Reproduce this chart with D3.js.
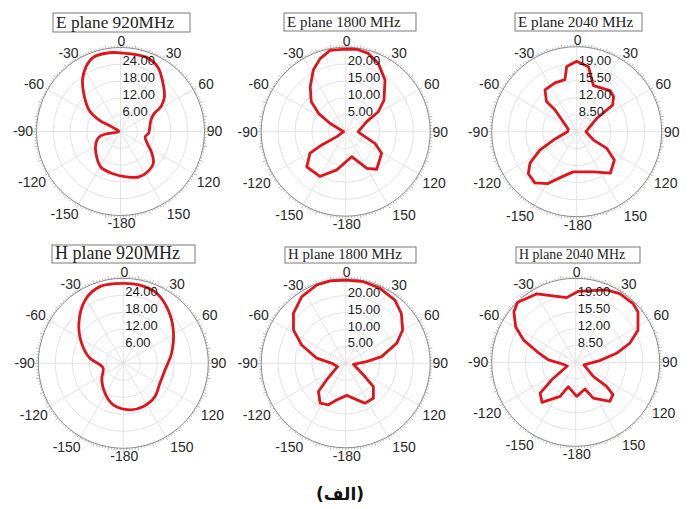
<!DOCTYPE html>
<html>
<head>
<meta charset="utf-8">
<script src="https://cdn.jsdelivr.net/npm/d3@7"></script>
<style>
  html, body { margin: 0; padding: 0; background: #fff; }
  svg { display: block; }
</style>
</head>
<body>
<svg id="chart" width="691" height="509"></svg>
<script>
// ---------------- DATA ----------------
const panelTitles = ["E plane 920MHz", "E plane 1800 MHz", "E plane 2040 MHz",
                     "H plane 920MHz", "H plane 1800 MHz", "H plane 2040 MHz"];
const angleTickLabels = [0, 30, 60, 90, 120, 150, -180, -150, -120, -90, -60, -30];
const ringValues920  = [6, 12, 18, 24];
const ringValues1800 = [5, 10, 15, 20];
const ringValues2040 = [8.5, 12, 15.5, 19];
const radialDomain920  = [0, 30];
const radialDomain1800 = [0, 25];
const radialDomain2040 = [5, 22.5];
const captionText = "(الف)";

// E plane 920 MHz (angle in degrees, gain)
const e920Angles = [-169, -151, -132, -116, -104, -99, -90, -62, -62, -56, -46, -36.5, -28, -19.4, -8, 0, 19, 30, 39, 52, 58.5, 62, 69.5, 94, 102, 114, 125, 134, 146, 158, 173];
const e920Gain   = [15.3, 14.5, 11.8, 9.8, 7.8, 4.8, 0.6, 3.3, 8.6, 13.5, 17.9, 22.8, 26.2, 28.3, 28.4, 28.1, 28.1, 26.6, 23.7, 19.9, 16.9, 13.6, 11.6, 10.0, 9.0, 10.5, 13.7, 16.3, 17.3, 17.5, 16.3];

// E plane 1800 MHz
const e1800Angles = [-166.8, -150, -132, -121, -119, -119, -90, -62, -56, -49, -38.4, -27.7, -19.3, -10.9, 0, 7.6, 16.1, 25.5, 37.3, 50.4, 58.5, 64.5, 90, 96.6, 111.7, 121, 140.5, 150, 166.5];
const e1800Gain   = [11.6, 15.3, 15.5, 12.3, 8.1, 3.0, 0.6, 5.2, 9.7, 13.5, 16.9, 20.6, 22.9, 24.5, 24.4, 24.6, 24.1, 22.4, 19.2, 14.7, 11.3, 6.9, 3.7, 4.3, 9.3, 12.4, 14.4, 12.5, 7.6];

// E plane 2040 MHz
const e2040Angles = [-175, -161.6, -151, -140.7, -131, -124, -116.6, -109.7, -90, -74, -45, -45, -37.2, -24.1, -12.7, -8.7, 0, 10.2, 20, 39, 46.3, 53.5, 56.3, 90, 116.6, 119, 127, 141, 157];
const e2040Gain   = [13.3, 14.8, 17.2, 18.6, 18.2, 16.6, 13.5, 10.1, 6.9, 6.8, 11.3, 13.8, 15.8, 16.0, 16.0, 18.6, 19.5, 18.6, 15.1, 15.9, 15.5, 14.2, 10.0, 6.9, 8.9, 12.1, 14.7, 16.0, 14.0];

// H plane 920 MHz
const h920Angles = [-166.5, -148.6, -127.6, -104, -94, -81.5, -64.4, -48, -31, -17, 0, 12, 25.5, 40, 56.3, 78.3, 99, 118.6, 136.5, 155, 171.9];
const h920Gain   = [15.1, 12.4, 9.6, 7.3, 8.2, 11.9, 16.3, 21.1, 26.1, 28.3, 28.2, 28.2, 27.4, 24.6, 21.2, 17.4, 14.9, 14.7, 16.2, 16.8, 16.6];

// H plane 1800 MHz
const h1800Angles = [-166, -157.4, -147.3, -136, -131, -112, -90, -80, -67.4, -57.5, -46.3, -33.4, -20.3, -10.7, 0, 12.2, 24.6, 37.9, 48.2, 59.7, 68.6, 79.5, 85.5, 97.4, 124.6, 130, 141.7, 154, 163, 178];
const h1800Gain   = [11.2, 13.3, 14.0, 11.6, 7.5, 2.6, 4.1, 8.7, 14.1, 18.3, 21.4, 23.6, 24.7, 24.8, 24.6, 24.7, 24.4, 23.7, 22.1, 19.5, 16.2, 10.8, 6.2, 2.3, 6.9, 10.7, 13.2, 13.1, 11.3, 9.5];

// H plane 2040 MHz
const h2040Angles = [-163, -155.5, -139.9, -131, -126, -113.7, -93.7, -85, -74.7, -66.9, -59.5, -50.9, -44.2, -29.5, -7.9, 2.1, 23, 32.7, 44.3, 51, 62.7, 70.7, 77.6, 86, 107.7, 129, 128, 131, 138.9, 153.9, 160.9, 178.3];
const h2040Gain   = [10.3, 12.8, 15.9, 14.8, 11.1, 6.9, 8.2, 10.7, 13.3, 16.8, 19.5, 21.6, 22.4, 21.4, 18.6, 19.8, 21.4, 22.0, 22.1, 21.7, 19.6, 16.9, 13.7, 10.0, 6.8, 9.7, 13.1, 15.3, 15.8, 13.3, 10.9, 12.1];

// ---------------- LAYOUT ----------------
const panels = [
  { title: panelTitles[0], angles: e920Angles,  gain: e920Gain,  rings: ringValues920,  domain: radialDomain920,  smooth: true,
    cx: 120.5, cy: 131.5, R: 84, box: [53, 13, 137, 19], fs: 17.3 },
  { title: panelTitles[1], angles: e1800Angles, gain: e1800Gain, rings: ringValues1800, domain: radialDomain1800, smooth: false,
    cx: 345.7, cy: 131.7, R: 84.5, box: [284, 13, 132, 18], fs: 15 },
  { title: panelTitles[2], angles: e2040Angles, gain: e2040Gain, rings: ringValues2040, domain: radialDomain2040, smooth: false,
    cx: 576.7, cy: 131.7, R: 85, box: [515, 13, 127, 18], fs: 15.2 },
  { title: panelTitles[3], angles: h920Angles,  gain: h920Gain,  rings: ringValues920,  domain: radialDomain920,  smooth: true,
    cx: 123.3, cy: 363.3, R: 85, box: [52, 245, 143, 18], fs: 18 },
  { title: panelTitles[4], angles: h1800Angles, gain: h1800Gain, rings: ringValues1800, domain: radialDomain1800, smooth: false,
    cx: 345.7, cy: 363.3, R: 84.5, box: [285, 247, 131, 16], fs: 14.8 },
  { title: panelTitles[5], angles: h2040Angles, gain: h2040Gain, rings: ringValues2040, domain: radialDomain2040, smooth: false,
    cx: 575.7, cy: 362.3, R: 84, box: [516, 247, 124, 16], fs: 13.8 }
];

// placement of the angle labels (text centre, in px, for a radius of 84)
const angleLabelOffset = {
  "0": [1, -90.5], "30": [53, -78], "60": [85.5, -47.5], "90": [94, 0],
  "120": [88, 51], "150": [58, 83], "-180": [1, 92], "-150": [-56, 83],
  "-120": [-88.5, 51], "-90": [-97.5, 0], "-60": [-86.5, -47.5], "-30": [-52, -78]
};

const svg = d3.select("#chart");
const angleScale = d3.scaleLinear().domain([-180, 180]).range([-Math.PI, Math.PI]);

panels.forEach(p => {
  const g = svg.append("g").attr("transform", `translate(${p.cx},${p.cy})`);
  const r = d3.scaleLinear().domain(p.domain).range([0, p.R]);
  const k = p.R / 84;

  // rings
  g.selectAll("circle.ring").data(p.rings).join("circle")
    .attr("r", d => r(d)).attr("fill", "none")
    .attr("stroke", "#dcdcdc").attr("stroke-width", 0.8);

  // spokes every 30 degrees
  const spokeAngles = d3.range(-180, 180, 30);
  g.selectAll("line.spoke").data(spokeAngles).join("line")
    .attr("x1", 0).attr("y1", 0)
    .attr("x2", d => p.R * Math.sin(angleScale(d)))
    .attr("y2", d => -p.R * Math.cos(angleScale(d)))
    .attr("stroke", "#dcdcdc").attr("stroke-width", 0.8);

  // outer circle
  g.append("circle").attr("r", p.R).attr("fill", "none")
    .attr("stroke", "#8a8a8a").attr("stroke-width", 1);

  // tick marks
  const tickAngles = d3.range(-180, 180, 2);
  g.selectAll("line.tick").data(tickAngles).join("line")
    .attr("x1", d => p.R * Math.sin(angleScale(d)))
    .attr("y1", d => -p.R * Math.cos(angleScale(d)))
    .attr("x2", d => (p.R + (d % 10 === 0 ? 3.5 : 2)) * Math.sin(angleScale(d)))
    .attr("y2", d => -(p.R + (d % 10 === 0 ? 3.5 : 2)) * Math.cos(angleScale(d)))
    .attr("stroke", "#9a9a9a").attr("stroke-width", 0.7);

  // angle labels
  g.selectAll("text.ang").data(angleTickLabels).join("text")
    .attr("x", d => angleLabelOffset[String(d)][0] * k)
    .attr("y", d => angleLabelOffset[String(d)][1] * k)
    .attr("dy", "0.35em")
    .attr("text-anchor", "middle")
    .attr("font-family", "Liberation Sans, Arial, sans-serif")
    .attr("font-size", 14)
    .attr("fill", "#2a2a2a")
    .text(d => d);

  // curve
  const pts = p.angles.map((a, i) => ({ a, v: p.gain[i] }));
  const line = d3.lineRadial()
    .angle(d => angleScale(d.a))
    .radius(d => r(d.v))
    .curve(p.smooth ? d3.curveCatmullRomClosed.alpha(0.5) : d3.curveLinearClosed);
  g.append("path").attr("d", line(pts))
    .attr("fill", "none").attr("stroke", "#e0141b")
    .attr("stroke-width", 2.8).attr("stroke-linejoin", "round");

  // ring labels
  g.selectAll("text.ring").data(p.rings).join("text")
    .attr("x", 2)
    .attr("y", d => -r(d) + 1)
    .attr("font-family", "Liberation Sans, Arial, sans-serif")
    .attr("font-size", 13)
    .attr("fill", "#1a1a1a")
    .text(d => d.toFixed(2));

  // title box
  svg.append("rect")
    .attr("x", p.box[0]).attr("y", p.box[1])
    .attr("width", p.box[2]).attr("height", p.box[3])
    .attr("fill", "#fff").attr("stroke", "#7a7a7a").attr("stroke-width", 1);
  svg.append("text")
    .attr("x", p.box[0] + 3)
    .attr("y", p.box[1] + p.box[3] - 4)
    .attr("font-family", "Liberation Serif, Times New Roman, serif")
    .attr("font-size", p.fs)
    .attr("fill", "#222")
    .text(p.title);
});

// caption
svg.append("text")
  .attr("x", 340).attr("y", 500)
  .attr("text-anchor", "middle")
  .attr("font-family", "DejaVu Sans, Noto Sans, sans-serif")
  .attr("font-weight", "bold")
  .attr("font-size", 17)
  .attr("fill", "#111")
  .text(captionText);
</script>
</body>
</html>
